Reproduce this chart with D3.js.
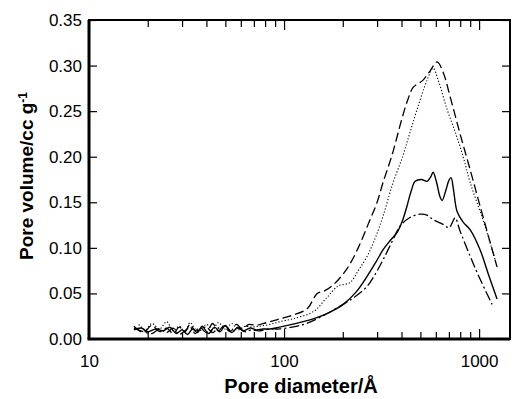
<!DOCTYPE html>
<html>
<head>
<meta charset="utf-8">
<script src="https://cdn.jsdelivr.net/npm/d3@7"></script>
<style>
  body { margin: 0; background: #fff; }
  svg { display: block; font-family: "Liberation Sans", Arial, sans-serif; }
</style>
</head>
<body>
<svg id="paper" width="514" height="399"></svg>
<script>
// pore size distributions, [diameter in Å, volume in cc/g]
let solidSeries = [[17,.010],[18.5,.012],[20,.008],[22,.011],[24,.009],[26,.013],[28,.006],[30,.010],[32,.005],[34,.011],[36,.007],[38,.014],[41,.006],[44,.013],[47,.008],[50,.015],[54,.007],[58,.013],[62,.009],[67,.012],[72,.010],[78,.011],[85,.011],[95,.013],
  [110,.016],[125,.019],[141,.022],[170,.029],[201,.038],[235,.052],[267,.069],[295,.084],[322,.098],[350,.108],[380,.117],[405,.130],[427,.146],[448,.162],[470,.173],[505,.175],[541,.173],[565,.178],[581,.183],[605,.172],[630,.156],[646,.152],[675,.163],[700,.174],[718,.177],[740,.163],[771,.140],[830,.128],[899,.120],[1011,.098],[1120,.070],[1236,.044]];
let dashedSeries = [[17,.014],[19,.007],[21,.015],[23,.008],[25,.012],[27,.006],[29,.013],[31,.008],[33,.016],[35,.009],[37,.013],[40,.007],[43,.017],[46,.009],[49,.014],[53,.008],[57,.016],[61,.011],[66,.016],[72,.015],[78,.017],[85,.019],[95,.022],
  [110,.026],[131,.033],[148,.050],[162,.053],[180,.060],[210,.077],[240,.100],[276,.131],[300,.150],[322,.172],[358,.202],[400,.240],[430,.262],[459,.276],[516,.284],[560,.294],[609,.304],[653,.293],[710,.266],[799,.225],[899,.186],[1011,.146],[1236,.079]];
let dottedSeries = [[18,.016],[19.5,.010],[21,.017],[23,.011],[25,.019],[27,.009],[29,.014],[31,.008],[33,.018],[35,.011],[37,.009],[40,.016],[43,.010],[46,.018],[50,.011],[54,.017],[58,.010],[63,.014],[68,.013],[74,.014],[80,.015],[88,.017],[95,.019],
  [110,.022],[141,.030],[165,.045],[189,.058],[218,.062],[240,.075],[267,.091],[295,.112],[322,.135],[360,.170],[405,.200],[440,.225],[481,.252],[541,.284],[581,.297],[617,.284],[685,.252],[760,.225],[828,.200],[899,.172],[1050,.130],[1208,.087]];
let dashDotSeries = [[17,.012],[19,.008],[21,.006],[23,.011],[25,.007],[27,.012],[29,.005],[31,.009],[33,.013],[35,.006],[37,.011],[40,.013],[43,.007],[46,.012],[50,.014],[54,.008],[58,.012],[63,.008],[68,.010],[74,.009],[80,.010],[88,.011],[95,.011],
  [110,.013],[130,.017],[160,.026],[201,.038],[230,.046],[267,.058],[295,.072],[322,.087],[360,.108],[394,.124],[440,.133],[498,.137],[540,.136],[581,.131],[650,.126],[702,.122],[730,.128],[753,.133],[800,.118],[899,.091],[1000,.068],[1166,.038]];

let xLabels = [10, 100, 1000];
let yTicks = [0, 0.05, 0.10, 0.15, 0.20, 0.25, 0.30, 0.35];

let margin = {top: 20, right: 4, bottom: 60, left: 89},
    width = 514 - margin.left - margin.right,
    height = 399 - margin.top - margin.bottom;

let svg = d3.select("#paper"),
    paper = svg.append("g")
        .attr("transform", "translate(" + margin.left + "," + margin.top + ")");

let x = d3.scaleLog().domain([10, 1440]).range([0, width]);
let y = d3.scaleLinear().domain([0, 0.35]).range([height, 0]);

let allTicks = x.ticks().filter(d => d >= 10 && d <= 1440);
let minorTicks = allTicks.filter(d => !xLabels.includes(d));

// minor ticks, bottom and top, pointing inward
paper.append("g")
    .attr("transform", "translate(0," + height + ")")
    .call(d3.axisBottom(x).tickValues(minorTicks).tickSize(-7).tickFormat(""));
paper.append("g")
    .call(d3.axisTop(x).tickValues(minorTicks).tickSize(-7).tickFormat(""));

// major ticks with labels
paper.append("g")
    .attr("transform", "translate(0," + height + ")")
    .call(d3.axisBottom(x).tickValues(xLabels).tickSize(-10).tickPadding(16).tickFormat(d3.format("d")));
paper.append("g")
    .call(d3.axisTop(x).tickValues(xLabels).tickSize(-10).tickFormat(""));

paper.append("g")
    .call(d3.axisLeft(y).tickValues(yTicks).tickSize(-8).tickPadding(7).tickFormat(d3.format(".2f")));
paper.append("g")
    .attr("transform", "translate(" + width + ",0)")
    .call(d3.axisRight(y).tickValues(yTicks).tickSize(-8).tickFormat(""));

paper.selectAll(".domain").remove();
paper.selectAll(".tick line").attr("stroke", "#000").attr("stroke-width", 1.2);
paper.selectAll(".tick text").attr("fill", "#000").style("font-size", "17px");

// frame, left and bottom heavier
paper.append("rect")
    .attr("width", width).attr("height", height)
    .attr("fill", "none").attr("stroke", "#000").attr("stroke-width", 2);
paper.append("line").attr("x1", 0).attr("x2", 0).attr("y1", 0).attr("y2", height)
    .attr("stroke", "#000").attr("stroke-width", 3);
paper.append("line").attr("x1", -1.5).attr("x2", width).attr("y1", height).attr("y2", height)
    .attr("stroke", "#000").attr("stroke-width", 3);

let line = d3.line()
    .x(d => x(d[0]))
    .y(d => y(d[1]))
    .curve(d3.curveCatmullRom.alpha(0.5));

let series = [
    {data: dottedSeries, dash: "1.2,2", w: 1.1},
    {data: dashedSeries, dash: "9,4", w: 1.3},
    {data: dashDotSeries, dash: "10,3,2,3", w: 1.3},
    {data: solidSeries, dash: null, w: 1.4}
];

paper.selectAll("path.series")
    .data(series)
    .enter()
    .append("path")
    .attr("class", "series")
    .attr("d", d => line(d.data))
    .attr("fill", "none")
    .attr("stroke", "#000")
    .attr("stroke-width", d => d.w)
    .attr("stroke-dasharray", d => d.dash);

// axis titles
svg.append("text")
    .attr("x", 301).attr("y", 393)
    .attr("text-anchor", "middle")
    .style("font-size", "20px").style("font-weight", "bold")
    .text("Pore diameter/Å");

let yTitle = svg.append("text")
    .attr("transform", "translate(33,176) rotate(-90)")
    .attr("text-anchor", "middle")
    .style("font-size", "19px").style("font-weight", "bold");
yTitle.append("tspan").text("Pore volume/cc g");
yTitle.append("tspan").attr("dy", "-0.5em").style("font-size", "12px").text("-1");
</script>
</body>
</html>
